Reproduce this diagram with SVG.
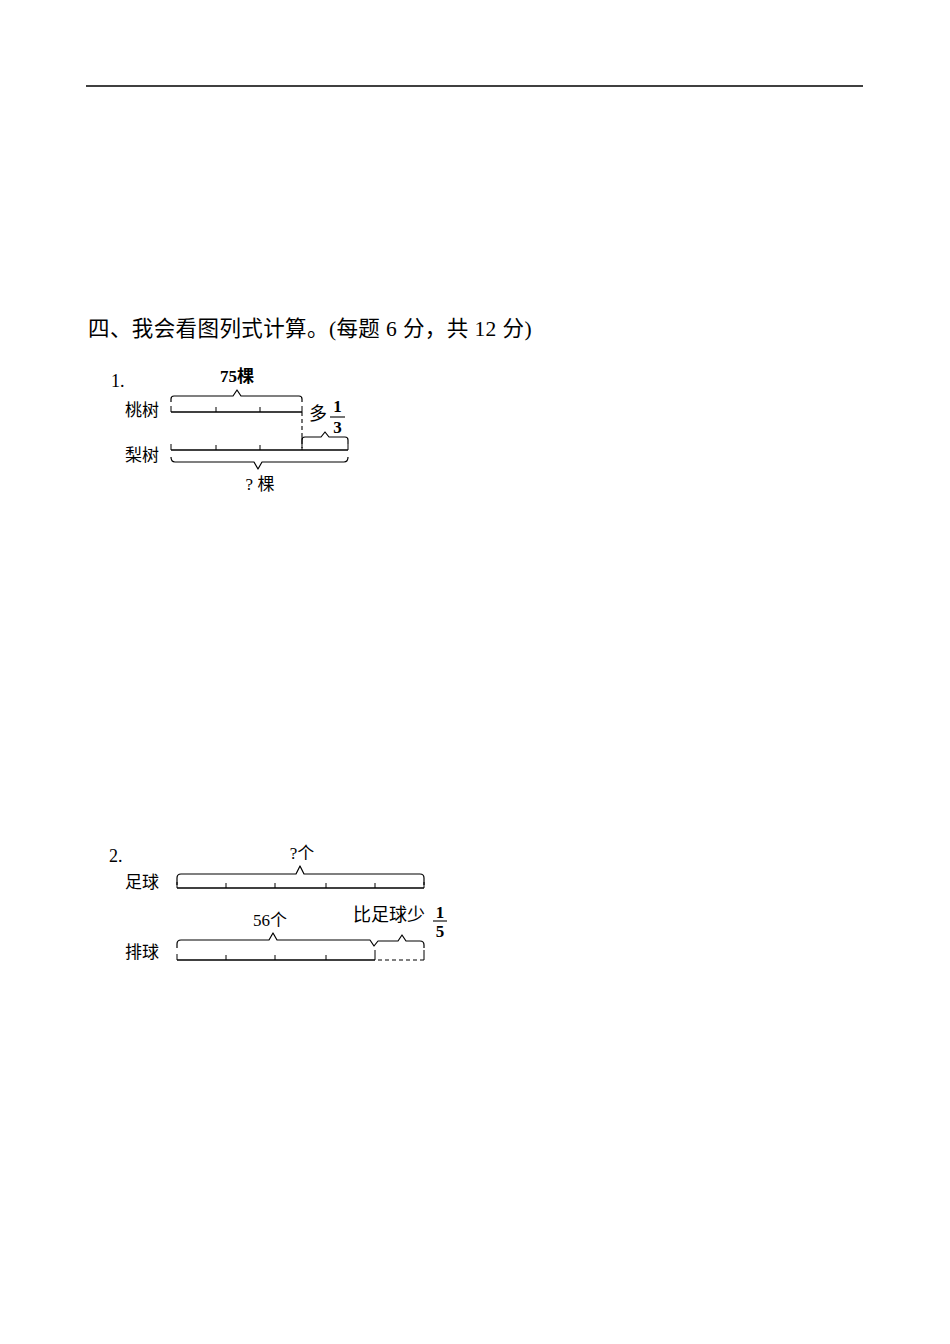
<svg xmlns="http://www.w3.org/2000/svg" width="950" height="1344" viewBox="0 0 950 1344">
<style>
.t{font-family:"Liberation Serif","Noto Sans CJK SC",serif;fill:#000}
.c{font-family:"Noto Sans CJK SC","Liberation Serif",sans-serif;fill:#000}
.ln{stroke:#000;stroke-width:1.3;fill:none}
.tk{stroke:#000;stroke-width:1;fill:none}
.br{stroke:#000;stroke-width:1.2;fill:none;stroke-linejoin:round}
.ds{stroke:#000;stroke-width:1.1;fill:none;stroke-dasharray:4 3}
</style>
<rect width="950" height="1344" fill="#fff"/>
<line x1="86" y1="86" x2="863" y2="86" stroke="#000" stroke-width="1.6"/>
<text class="t" x="88" y="336" font-size="21.5" letter-spacing="0.4">四、我会看图列式计算。(每题 6 分，共 12 分)</text>

<g id="diagram1">
<text class="t" x="111" y="387" font-size="18">1.</text>
<g id="label-75">
<text class="t" x="237" y="382" font-size="17" font-weight="bold" text-anchor="middle">75棵</text>
</g>
<g id="row-taoshu">
<text class="c" x="125" y="416" font-size="17">桃树</text>
<path class="ln" d="M171,412 H302"/>
<path class="tk" d="M171,406 V412 M216,407 V412 M260,407 V412 M302,406 V412"/>
</g>
<g id="row-lishu">
<text class="c" x="125" y="461" font-size="17">梨树</text>
<path class="ln" d="M171,450 H348"/>
<path class="tk" d="M171,444 V450 M216,445 V450 M260,445 V450 M302,437 V450 M348,444 V450"/>
</g>
<g id="label-duo">
<text class="c" x="309" y="420" font-size="18">多</text>
<text class="t" x="337.5" y="412" font-size="17" font-weight="bold" text-anchor="middle">1</text>
<line x1="330" y1="417" x2="345" y2="417" stroke="#000" stroke-width="1.1"/>
<text class="t" x="337.5" y="433" font-size="17" font-weight="bold" text-anchor="middle">3</text>
</g>
<g id="label-ke">
<text class="t" x="260" y="490" font-size="17" text-anchor="middle">? 棵</text>
</g>
</g>

<g id="diagram2">
<text class="t" x="109" y="862" font-size="18">2.</text>
<g id="label-ge">
<text class="t" x="302" y="859" font-size="17" text-anchor="middle">?个</text>
</g>
<g id="row-zuqiu">
<text class="c" x="125" y="888" font-size="17">足球</text>
<path class="ln" d="M177,888 H424"/>
<path class="tk" d="M177,882 V888 M226,883 V888 M275,883 V888 M326,883 V888 M375,883 V888 M424,882 V888"/>
</g>
<g id="label-56">
<text class="t" x="270" y="926" font-size="17" text-anchor="middle">56个</text>
</g>
<g id="label-shao">
<text class="c" x="353" y="921" font-size="18">比足球少</text>
<text class="t" x="440" y="918" font-size="17" font-weight="bold" text-anchor="middle">1</text>
<line x1="433" y1="921" x2="447" y2="921" stroke="#000" stroke-width="1.1"/>
<text class="t" x="440" y="937" font-size="17" font-weight="bold" text-anchor="middle">5</text>
</g>
<g id="row-paiqiu">
<text class="c" x="125" y="958" font-size="17">排球</text>
<path class="ln" d="M177,960 H375"/>
<path class="ds" d="M378,960 H424"/>
<path class="tk" d="M177,954 V960 M226,955 V960 M275,955 V960 M326,955 V960 M375,950 V960 M424,950 V960"/>
</g>
</g>

<g id="connectors">
<path class="br" d="M171,402 V399 Q171,396 174,396 H233 L237,390 L241,396 H299 Q302,396 302,399 V402"/>
<path class="ds" d="M302,412 V448"/>
<path class="br" d="M302,440 Q302,437 305,437 H321 L325,432 L329,437 H345 Q348,437 348,440 V444"/>
<path class="br" d="M171,457 Q171,462 175,462 H254 L258,469 L262,462 H344 Q348,462 348,457"/>
<path class="br" d="M177,885 V878 Q177,874 181,874 H296 L300,866 L304,874 H420 Q424,874 424,878 V885"/>
<path class="br" d="M177,948 V944 Q177,940 181,940 H269 L273,933 L277,940 H370 L374,946 L378,941 H398 L402,935 L406,941 H420 Q424,941 424,945 V948"/>
</g>
</svg>
